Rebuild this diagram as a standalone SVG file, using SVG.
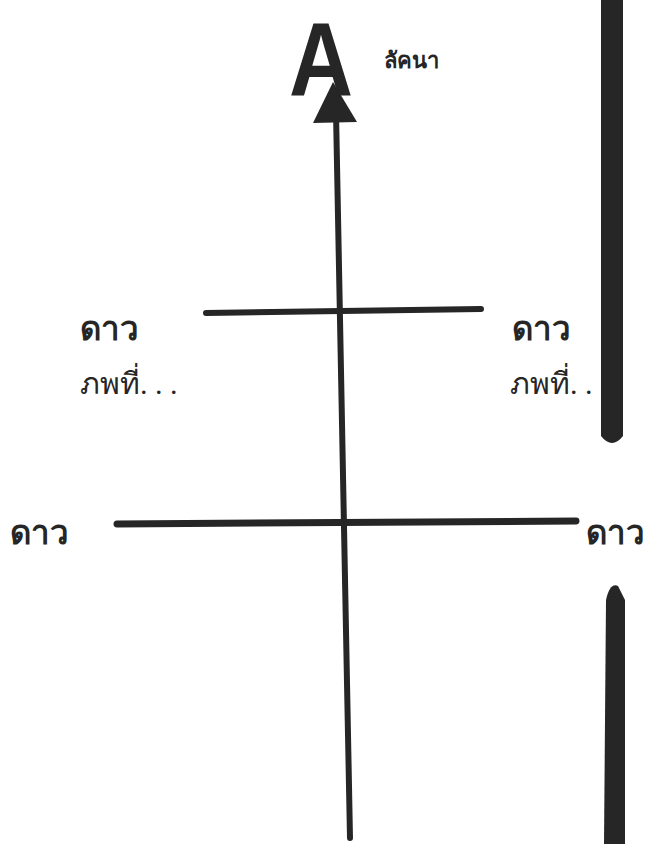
<svg xmlns="http://www.w3.org/2000/svg" width="660" height="844" viewBox="0 0 660 844">
<style>
.ln{stroke:#262626;fill:none;stroke-linecap:round}
.bar{fill:#262626}
.b{font-family:"Noto Sans","DejaVu Sans",sans-serif;font-weight:bold;fill:#262626}
.r{font-family:"Liberation Serif","Noto Sans",serif;fill:#262626}
</style>
<rect width="660" height="844" fill="#fff"/>
<g id="connectors">
<line class="ln" x1="336" y1="112" x2="350" y2="838" stroke-width="6"/>
<polygon class="bar" points="333,82 313,123 357,122"/>
<line class="ln" x1="206" y1="313" x2="481" y2="309" stroke-width="6"/>
<line class="ln" x1="117" y1="524" x2="576" y2="521" stroke-width="7"/>
</g>
<g id="node-A">
<text class="b" x="321" y="95" font-size="104" text-anchor="middle" textLength="64" lengthAdjust="spacingAndGlyphs" style="font-family:'Liberation Sans',sans-serif">A</text>
</g>
<g id="label-lagna"><text class="b" x="384" y="68" font-size="22">ลัคนา</text></g>
<g id="label-ul"><text class="b" x="80" y="340" font-size="33">ดาว</text><text class="r" x="80" y="394" font-size="30">ภพที่. . .</text></g>
<g id="label-ur"><text class="b" x="512" y="340" font-size="33">ดาว</text><text class="r" x="510" y="394" font-size="30">ภพที่. .</text></g>
<g id="label-ll"><text class="b" x="10" y="544" font-size="33">ดาว</text></g>
<g id="label-lr"><text class="b" x="586" y="544" font-size="33">ดาว</text></g>
<g id="bars">
<path class="bar" d="M601,0 H623 V436 Q612,450 601,436 Z"/>
<path class="bar" d="M606,600 Q610,582 618,586 L625,600 V844 H604 Z"/>
</g>
</svg>
